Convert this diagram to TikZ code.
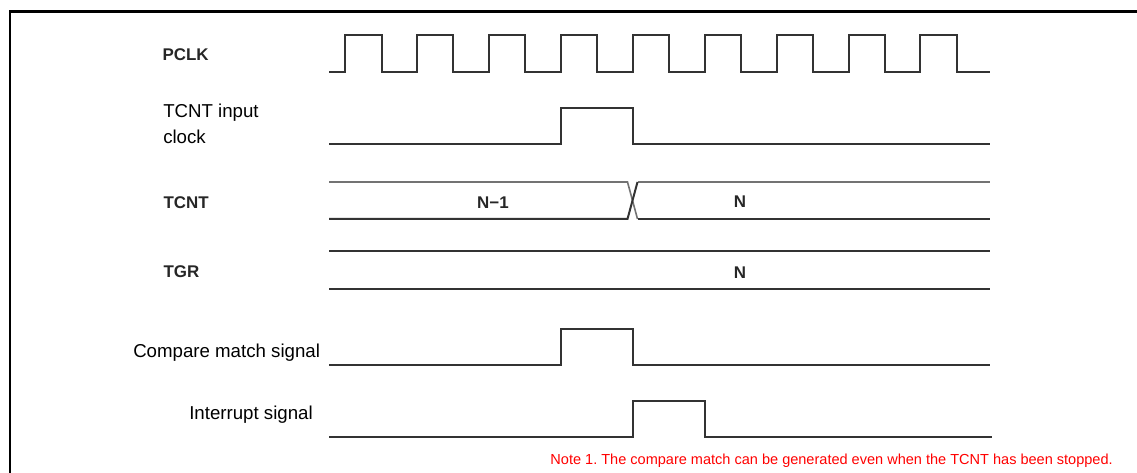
\documentclass[tikz,border=0pt]{standalone}
\usepackage{fontspec}
\setmainfont{Liberation Sans}
\newfontfamily\sigbold{Liberation Sans Bold}
\frenchspacing
\begin{document}
\begin{tikzpicture}[x=0.75pt,y=-0.75pt,
  wave/.style={draw=black!80,line width=1.5pt,line join=miter},
  wavelight/.style={draw=black!55,line width=1.2pt},
  frame/.style={draw=black,line width=2.2pt},
  siglabel/.style={font=\fontsize{14}{19.5}\selectfont,inner sep=0pt,anchor=west,align=left},
  boldlabel/.style={font=\sigbold\fontsize{12.7}{15}\selectfont,text=black!85,inner sep=0pt,anchor=west},
  value/.style={font=\sigbold\fontsize{12.7}{15}\selectfont,text=black!85,inner sep=0pt},
  note/.style={font=\fontsize{10.9}{13}\selectfont,text=red,inner sep=0pt,anchor=east}]
\useasboundingbox (0,0) rectangle (1137,473);
% frame
\draw[frame] (10,474) -- (10,11.5) -- (1138,11.5);
% labels
\node[boldlabel] (lpclk) at (162.3,55) {PCLK};
\node[siglabel] (ltin) at (163,124) {TCNT input\\clock};
\node[boldlabel] (ltcnt) at (163.3,203) {TCNT};
\node[boldlabel] (ltgr) at (163.3,272) {TGR};
\node[siglabel] (lcmp) at (133,353) {Compare match signal};
\node[siglabel] (lint) at (189,415) {Interrupt signal};
% PCLK
\draw[wave] (329,72) foreach \k in {0,...,8} {
  -- ({345.2+71.9*\k},72) -- ++(0,-37) -- ++(36.3,0) -- ++(0,37) } -- (990,72);
% TCNT input clock
\draw[wave] (329,144.3) -- (561,144.3) -- (561,108.3) -- (632.5,108.3) -- (632.5,144.3) -- (990,144.3);
% TCNT bus
\draw[wavelight] (329,182) -- (627.5,182) -- (637.5,219);
\draw[wavelight] (637.5,182) -- (990,182);
\draw[wave] (329,219) -- (627.5,219) -- (637.5,182);
\draw[wave] (637.5,219) -- (990,219);
\node[value] (vn1) at (493,202.5) {N−1};
\node[value] (vn) at (740,202) {N};
% TGR bus
\draw[wave] (329,251.3) -- (990,251.3);
\draw[wave] (329,288.6) -- (990,288.6);
\node[value] (vtgr) at (740,273) {N};
% compare match
\draw[wave] (329,365) -- (561,365) -- (561,329.3) -- (632.5,329.3) -- (632.5,365) -- (990,365);
% interrupt
\draw[wave] (329,437) -- (632.5,437) -- (632.5,400.7) -- (705.3,400.7) -- (705.3,437) -- (992,437);
% note
\node[note] (note) at (1113,461) {Note 1. The compare match can be generated even when the TCNT has been stopped.};
\end{tikzpicture}
\end{document}
